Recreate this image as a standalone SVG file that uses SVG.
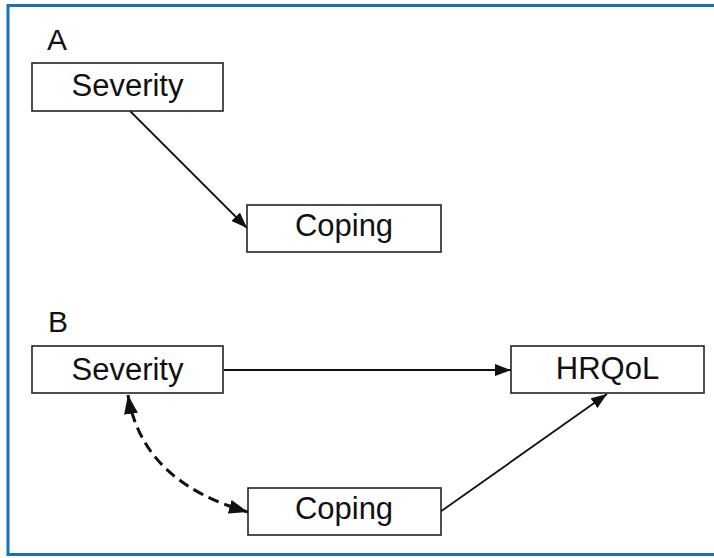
<svg xmlns="http://www.w3.org/2000/svg" width="714" height="558" viewBox="0 0 714 558">
<defs>
<style>
.box{fill:#fff;stroke:#222;stroke-width:1.6}
.lbl{font-family:"Liberation Sans",Arial,sans-serif;font-size:31px;fill:#111;text-anchor:middle}
.hd{font-family:"Liberation Sans",Arial,sans-serif;font-size:30px;fill:#111}
.ln{fill:none;stroke:#111;stroke-width:1.8}
.dash{fill:none;stroke:#111;stroke-width:3;stroke-dasharray:11 6}
</style>
<marker id="ah" viewBox="0 0 16 12" refX="16" refY="6" markerWidth="16" markerHeight="12" markerUnits="userSpaceOnUse" orient="auto">
<path d="M0,0 L16,6 L0,12 Z" fill="#111"/>
</marker>
<marker id="ahd" viewBox="0 0 19 14" refX="19" refY="7" markerWidth="19" markerHeight="14" markerUnits="userSpaceOnUse" orient="auto">
<path d="M0,0 L19,7 L0,14 Z" fill="#111"/>
</marker>
<marker id="ahds" viewBox="0 0 19 14" refX="0" refY="7" markerWidth="19" markerHeight="14" markerUnits="userSpaceOnUse" orient="auto">
<path d="M19,0 L0,7 L19,14 Z" fill="#111"/>
</marker>
</defs>
<rect x="8" y="5.5" width="720" height="549" fill="#fff" stroke="#1673b4" stroke-width="3"/>
<text class="hd" x="47" y="50">A</text>
<text class="hd" x="48" y="332">B</text>
<g id="connectors">
<line class="ln" x1="130" y1="111" x2="247" y2="228" marker-end="url(#ah)"/>
<line class="ln" x1="224" y1="370" x2="511" y2="370" marker-end="url(#ah)"/>
<line class="ln" x1="440" y1="512" x2="607" y2="394" marker-end="url(#ah)"/>
<path class="dash" d="M128,395 Q142,482 248,512" marker-start="url(#ahds)" marker-end="url(#ahd)"/>
</g>
<g id="a-severity">
<rect class="box" x="32" y="63" width="191" height="48"/>
<text class="lbl" x="127.5" y="96">Severity</text>
</g>
<g id="a-coping">
<rect class="box" x="247" y="205" width="194" height="47"/>
<text class="lbl" x="344" y="236">Coping</text>
</g>
<g id="b-severity">
<rect class="box" x="32" y="346" width="191" height="47"/>
<text class="lbl" x="127.5" y="380">Severity</text>
</g>
<g id="b-coping">
<rect class="box" x="248" y="488" width="193" height="47"/>
<text class="lbl" x="344" y="519">Coping</text>
</g>
<g id="b-hrqol">
<rect class="box" x="511" y="346" width="193" height="47"/>
<text class="lbl" x="607.5" y="379">HRQoL</text>
</g>
</svg>
